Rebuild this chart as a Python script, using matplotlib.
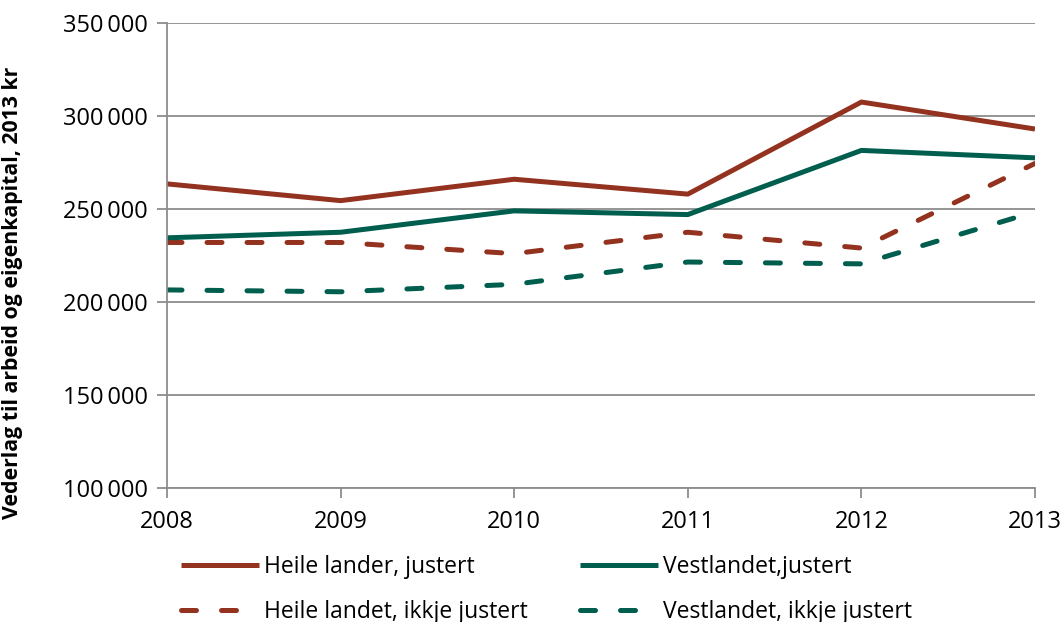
import numpy as np
import matplotlib.pyplot as plt
from matplotlib.ticker import FuncFormatter

plt.rcParams['font.family'] = ['Open Sans', 'DejaVu Sans']

years = [2008, 2009, 2010, 2011, 2012, 2013]
heile_justert = [263500, 254500, 266000, 258000, 307500, 293000]
vest_justert = [234500, 237500, 249000, 247000, 281500, 277500]
heile_ikkje = [232000, 232000, 226000, 237500, 229000, 274500]
vest_ikkje = [206500, 205500, 209500, 221500, 220500, 248500]

red = '#943220'
green = '#005E4F'

fig = plt.figure(figsize=(10.62, 6.22), dpi=100)
ax = fig.add_axes([167/1062, 1-488/622, (1035-167)/1062, (488-23)/622])

lw = 3.6
ax.plot(years, heile_justert, color=red, lw=lw, label='Heile lander, justert', solid_capstyle='butt')
ax.plot(years, heile_ikkje, color=red, lw=lw, ls=(0, (3, 5)), dash_capstyle='round',
        label='Heile landet, ikkje justert')
ax.plot(years, vest_justert, color=green, lw=lw, label='Vestlandet,justert', solid_capstyle='butt')
ax.plot(years, vest_ikkje, color=green, lw=lw, ls=(0, (3, 5)), dash_capstyle='round',
        label='Vestlandet, ikkje justert')

ax.set_xlim(2008, 2013)
ax.set_ylim(100000, 350000)
ax.set_yticks(np.arange(100000, 350001, 50000))
ax.set_xticks(years)
ax.yaxis.set_major_formatter(FuncFormatter(lambda v, p: '{:,.0f}'.format(v).replace(',', '\u2009')))
ax.grid(axis='y', color='#8c8c8c', lw=1.3)
ax.set_axisbelow(True)
for s in ['top', 'right']:
    ax.spines[s].set_visible(False)
for s in ['left', 'bottom']:
    ax.spines[s].set_color('#8c8c8c')
    ax.spines[s].set_linewidth(1.3)
ax.tick_params(axis='both', colors='#8c8c8c', length=7, width=1.3, labelsize=17, labelcolor='black')
ax.tick_params(axis='y', pad=7)
ax.tick_params(axis='x', pad=9)
ax.set_ylabel('Vederlag til arbeid og eigenkapital, 2013 kr', fontsize=15.3, fontweight='bold')
ax.yaxis.set_label_coords(-144/868, 0.42)

leg = fig.legend(loc='upper left', bbox_to_anchor=(172/1062, 1-546/622), ncol=2, frameon=False,
                 fontsize=16.5, handlelength=3.4, handletextpad=0.2, columnspacing=2.3,
                 labelspacing=0.9, borderaxespad=0)

fig.savefig('out.png', dpi=100)
